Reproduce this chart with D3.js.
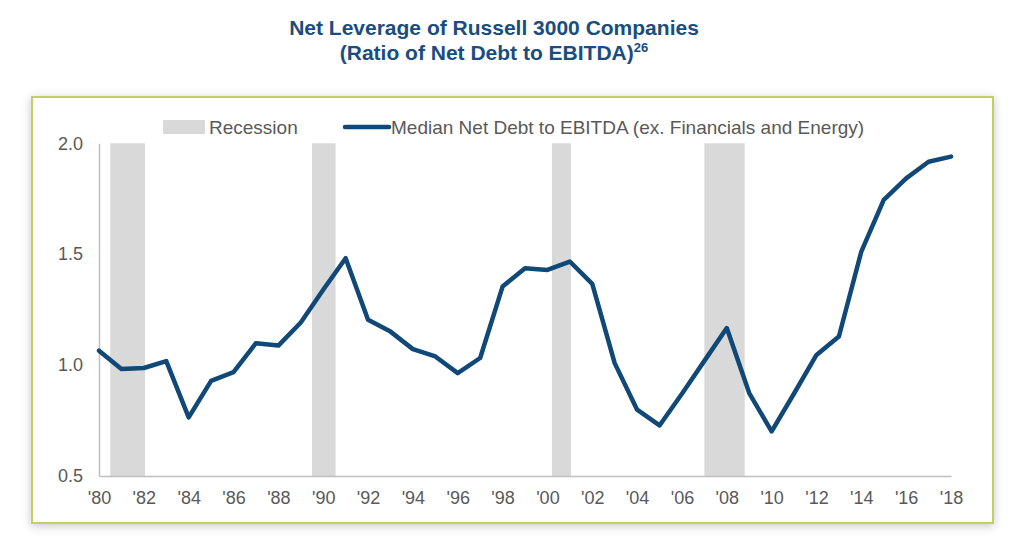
<!DOCTYPE html>
<html>
<head>
<meta charset="utf-8">
<script src="https://cdn.jsdelivr.net/npm/d3@7"></script>
<style>
  html, body { margin: 0; padding: 0; background: #ffffff; }
  svg { display: block; }
  text { font-family: "Liberation Sans", Arial, sans-serif; }
</style>
</head>
<body>
<svg id="chart" width="1024" height="547"></svg>
<script>
const years = d3.range(1980, 2019);
const values = [1.065, 0.982, 0.987, 1.018, 0.764, 0.929, 0.968, 1.099, 1.088, 1.192,
                1.34, 1.482, 1.204, 1.151, 1.072, 1.039, 0.964, 1.032, 1.354, 1.437,
                1.429, 1.467, 1.366, 1.009, 0.799, 0.728, 0.871, 1.019, 1.167, 0.874,
                0.701, 0.872, 1.046, 1.129, 1.512, 1.745, 1.842, 1.917, 1.940];
const recessionStart = [1980.5, 1989.5, 2000.2, 2007.0];
const recessionEnd   = [1982.05, 1990.55, 2001.05, 2008.8];
const yTicks = [0.5, 1.0, 1.5, 2.0];
const xTicks = d3.range(1980, 2019, 2);
const titleLine1 = "Net Leverage of Russell 3000 Companies";
const titleLine2 = "(Ratio of Net Debt to EBITDA)";
const titleSup = "26";
const legendLabels = ["Recession", "Median Net Debt to EBITDA (ex. Financials and Energy)"];

const svg = d3.select("#chart");
const navy = "#104878";
const gray = "#595959";

// drop shadow filter
const defs = svg.append("defs");
const f = defs.append("filter").attr("id", "shadow")
  .attr("x", "-5%").attr("y", "-10%").attr("width", "110%").attr("height", "125%");
f.append("feDropShadow").attr("dx", 0).attr("dy", 2).attr("stdDeviation", 5)
  .attr("flood-color", "#000").attr("flood-opacity", 0.22);

// title
svg.append("text").attr("x", 494).attr("y", 35).attr("text-anchor", "middle")
  .attr("font-size", 21).attr("font-weight", "bold").attr("fill", "#1a4d7f")
  .text(titleLine1);
const t2 = svg.append("text").attr("x", 494).attr("y", 60).attr("text-anchor", "middle")
  .attr("font-size", 21).attr("font-weight", "bold").attr("fill", "#1a4d7f");
t2.append("tspan").text(titleLine2);
t2.append("tspan").attr("font-size", 13).attr("dy", -8).text(titleSup);

// panel
svg.append("rect").attr("x", 32).attr("y", 97).attr("width", 961).attr("height", 426)
  .attr("fill", "#ffffff").attr("stroke", "#c3cf5e").attr("stroke-width", 2)
  .attr("filter", "url(#shadow)");

const x = d3.scaleLinear().domain([1980, 2018]).range([99, 951]);
const y = d3.scaleLinear().domain([0.5, 2.0]).range([476, 143.3]);

// recession bars
svg.append("g").selectAll("rect").data(recessionStart).join("rect")
  .attr("x", (d) => x(d))
  .attr("width", (d, i) => x(recessionEnd[i]) - x(d))
  .attr("y", y(2.0)).attr("height", y(0.5) - y(2.0))
  .attr("fill", "#d9d9d9");

// axes
const yAxis = svg.append("g").attr("transform", `translate(${x(1980)},0)`)
  .call(d3.axisLeft(y).tickValues(yTicks).tickFormat(d3.format(".1f")).tickSize(0).tickPadding(16));
yAxis.select(".domain").attr("stroke", "#bfbfbf").attr("stroke-width", 1.5);
yAxis.selectAll("text").attr("font-size", 18).attr("fill", gray)
  .attr("font-family", "Liberation Sans, Arial, sans-serif");

const xAxis = svg.append("g").attr("transform", `translate(0,${y(0.5)})`)
  .call(d3.axisBottom(x).tickValues(xTicks).tickFormat((d) => "'" + String(d).slice(2)).tickSize(0).tickPadding(15));
xAxis.select(".domain").attr("stroke", "#bfbfbf").attr("stroke-width", 1.5);
xAxis.selectAll("text").attr("font-size", 18).attr("fill", gray)
  .attr("font-family", "Liberation Sans, Arial, sans-serif");

// line
const line = d3.line().x((d, i) => x(years[i])).y((d) => y(d));
svg.append("path").datum(values).attr("d", line)
  .attr("fill", "none").attr("stroke", navy).attr("stroke-width", 4.5)
  .attr("stroke-linejoin", "round").attr("stroke-linecap", "round");

// legend
const lg = svg.append("g");
lg.append("rect").attr("x", 163).attr("y", 120).attr("width", 42).attr("height", 14).attr("fill", "#d9d9d9");
lg.append("text").attr("x", 209).attr("y", 133.5).attr("font-size", 19).attr("fill", gray).text(legendLabels[0]);
lg.append("line").attr("x1", 345).attr("x2", 389).attr("y1", 127).attr("y2", 127)
  .attr("stroke", navy).attr("stroke-width", 4.5).attr("stroke-linecap", "round");
lg.append("text").attr("x", 391).attr("y", 133.5).attr("font-size", 19).attr("fill", gray).text(legendLabels[1]);
</script>
</body>
</html>
